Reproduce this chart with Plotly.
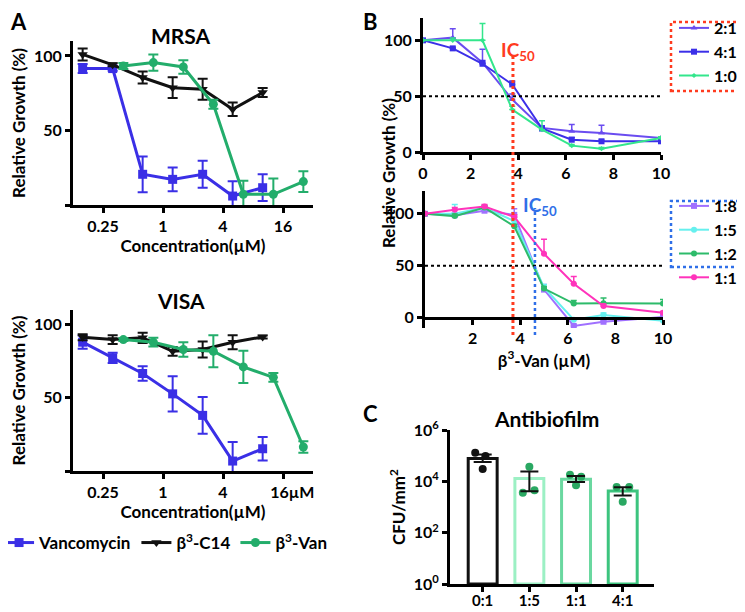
import plotly.graph_objects as go

# ---- data ----
# Panel A: concentrations (uM)
conc_vanco = [0.15625, 0.3125, 0.625, 1.25, 2.5, 5, 10]
conc_b3van = [0.4, 0.8, 1.6, 3.2, 6.4, 12.8, 25.6]

mrsa_vanco = [91.5, 91.5, 20.6, 17.2, 20.6, 6, 11.6]
mrsa_vanco_err = [3, 1.5, 12, 8, 9, 10, 9]
mrsa_c14 = [101, 94, 85.5, 78.7, 77.6, 64.2, 75.4]
mrsa_c14_err = [4, 1, 4, 7, 7, 4.5, 3]
mrsa_b3van = [93.3, 95.5, 92.6, 67.6, 7.2, 7.2, 15.7]
mrsa_b3van_err = [2, 5.5, 4.5, 3, 9, 10.5, 7]

visa_vanco = [88, 77.3, 66.6, 52.7, 38, 6.8, 15.2]
visa_vanco_err = [4.5, 3.5, 5, 12, 12.5, 13, 8]
visa_c14 = [91.4, 89.8, 91, 81.8, 83, 88, 91.6]
visa_c14_err = [2, 3, 3.5, 3, 5.5, 4.8, 1]
visa_b3van = [89.8, 88, 83, 81.8, 71.1, 64, 16.4]
visa_b3van_err = [1, 3, 5, 11, 11, 3, 4]

# Panel B: beta3-Van concentration (uM)
conc_b = [0, 1.25, 2.5, 3.75, 5, 6.25, 7.5, 10]
r21 = [100, 102.4, 80, 47, 21.6, 18.6, 17, 12.6]
r21_up = [0, 8, 12, 5, 2, 6, 7, 1]
r41 = [100, 92.8, 79, 60.5, 21, 11, 9.6, 9.6]
r41_up = [0, 1, 3, 3, 2, 2, 1, 1]
r10 = [100, 100, 100, 38, 20, 5.7, 3, 12.6]
r10_up = [0, 2, 15, 3, 8, 1, 1, 1]

r18 = [100, 98.7, 103, 99, 27, -8, -4, 0.6]
r18_up = [0, 2, 2, 6, 5, 1, 1, 1]
r15 = [100, 100, 106, 93, 29, -2, 2.5, -3]
r15_up = [0, 9, 2, 3, 3, 1, 2, 1]
r12 = [100, 97.8, 106, 88, 28, 13.5, 13.8, 13.5]
r12_up = [0, 2, 2, 2, 2, 3, 5, 4]
r11 = [100, 104, 107, 97, 61.5, 32.7, 11.2, 4.8]
r11_up = [0, 2, 2, 2, 14, 7, 2, 1]

ic50_top = 3.78
ic50_bottom = 4.62

# Panel C: antibiofilm
c_labels = ["0:1", "1:5", "1:1", "4:1"]
c_mean = [7.7e4, 1.3e4, 1.2e4, 4.2e3]
c_err_hi = [1.1e5, 2.4e4, 1.63e4, 5.9e3]
c_err_lo = [5.7e4, 4.1e3, 9.4e3, 2.8e3]
c_pts = [[1.3e5, 9.8e4, 3.0e4], [3.7e4, 3.6e3, 4.5e3],
         [1.8e4, 1.5e4, 7.0e3], [6.0e3, 6.0e3, 1.6e3]]

# ---- style ----
W, H = 745, 612
FONT = "Lato"
BLUE = "#3a2fe6"
BLACK = "#111111"
GREEN = "#23ad6b"
jitter = [[-0.16, 0.06, 0], [0, -0.14, 0.11], [-0.13, 0.11, 0], [-0.13, 0.14, 0]]
bar_lines = ["#111111", "#9cf0c4", "#6ad8a0", "#3cc47e"]
dot_cols = ["#111111", "#2aa862", "#2aa862", "#2aa862"]


def fx(p):
    return p / W


def fy(p):
    return 1 - p / H


fig = go.Figure()


def a_trace(x, y, err, color, symbol, name, xa, ya, show):
    fig.add_trace(go.Scatter(
        x=x, y=y, mode="lines+markers", name=name, legend="legend",
        line=dict(color=color, width=3),
        marker=dict(symbol=symbol, size=9, color=color),
        error_y=dict(type="data", array=err, color=color, thickness=2, width=5),
        xaxis=xa, yaxis=ya, showlegend=show))


a_trace(conc_vanco, mrsa_vanco, mrsa_vanco_err, BLUE, "square", "Vancomycin", "x", "y", True)
a_trace(conc_vanco, mrsa_c14, mrsa_c14_err, BLACK, "triangle-down", "β<sup>3</sup>-C14", "x", "y", True)
a_trace(conc_b3van, mrsa_b3van, mrsa_b3van_err, GREEN, "circle", "β<sup>3</sup>-Van", "x", "y", True)
a_trace(conc_vanco, visa_vanco, visa_vanco_err, BLUE, "square", "Vancomycin", "x2", "y2", False)
a_trace(conc_vanco, visa_c14, visa_c14_err, BLACK, "triangle-down", "β<sup>3</sup>-C14", "x2", "y2", False)
a_trace(conc_b3van, visa_b3van, visa_b3van_err, GREEN, "circle", "β<sup>3</sup>-Van", "x2", "y2", False)


def b_trace(y, up, color, symbol, name, xa, ya, leg, size=6):
    fig.add_trace(go.Scatter(
        x=conc_b, y=y, mode="lines+markers", name=name, legend=leg,
        line=dict(color=color, width=2),
        marker=dict(symbol=symbol, size=size, color=color),
        error_y=dict(type="data", symmetric=False, array=up, arrayminus=[0] * len(up),
                     color=color, thickness=1.5, width=3),
        xaxis=xa, yaxis=ya))


b_trace(r21, r21_up, "#6a4cf0", "triangle-up", "2:1", "x3", "y3", "legend2")
b_trace(r41, r41_up, "#3b2fe8", "square", "4:1", "x3", "y3", "legend2")
b_trace(r10, r10_up, "#33e68c", "diamond", "1:0", "x3", "y3", "legend2", size=4)
b_trace(r18, r18_up, "#a070ff", "square", "1:8", "x4", "y4", "legend3")
b_trace(r15, r15_up, "#66f0ee", "circle", "1:5", "x4", "y4", "legend3")
b_trace(r12, r12_up, "#2dbb6a", "circle", "1:2", "x4", "y4", "legend3")
b_trace(r11, r11_up, "#ff33bb", "circle", "1:1", "x4", "y4", "legend3")

# Panel C bars
cx = list(range(len(c_labels)))
fig.add_trace(go.Bar(
    x=cx, y=c_mean, width=0.62, base=1,
    marker=dict(color="white", line=dict(color=bar_lines, width=3)),
    xaxis="x5", yaxis="y5", showlegend=False))
for i in cx:
    fig.add_trace(go.Scatter(
        x=[i + j for j in jitter[i]], y=c_pts[i], mode="markers",
        marker=dict(size=8, color=dot_cols[i]),
        xaxis="x5", yaxis="y5", showlegend=False))
fig.add_trace(go.Scatter(
    x=cx, y=c_mean, mode="markers", marker=dict(size=1, color="rgba(0,0,0,0)"),
    error_y=dict(type="data", symmetric=False,
                 array=[h - m for h, m in zip(c_err_hi, c_mean)],
                 arrayminus=[m - l for m, l in zip(c_mean, c_err_lo)],
                 color=BLACK, thickness=2, width=9),
    xaxis="x5", yaxis="y5", showlegend=False))

# ---- axes ----
ax_common = dict(showline=True, linewidth=3, linecolor="black", ticks="outside",
                 ticklen=5, tickwidth=2.5, tickcolor="black", showgrid=False,
                 zeroline=False, tickfont=dict(size=16, color="black"))
ytitle = dict(size=17)

logx = dict(type="log", range=[-0.9031, 1.5051], tickvals=[0.25, 1, 4, 16])
fig.update_layout(
    xaxis=dict(domain=[fx(65), fx(305)], anchor="y", ticktext=["0.25", "1", "4", "16"],
               title=dict(text="Concentration(µM)", font=dict(size=17), standoff=4),
               **logx, **ax_common),
    yaxis=dict(domain=[fy(197), fy(33)], anchor="x", range=[0, 110],
               tickvals=[0, 50, 100], ticktext=["", "50", "100"],
               title=dict(text="Relative Growth (%)", font=ytitle, standoff=6),
               **ax_common),
    xaxis2=dict(domain=[fx(65), fx(305)], anchor="y2",
                ticktext=["0.25", "1", "4", "\u2007\u200716µM"],
                title=dict(text="Concentration(µM)", font=dict(size=17), standoff=4),
                **logx, **ax_common),
    yaxis2=dict(domain=[fy(463), fy(302)], anchor="x2", range=[0, 110],
                tickvals=[0, 50, 100], ticktext=["", "50", "100"],
                title=dict(text="Relative Growth (%)", font=ytitle, standoff=6),
                **ax_common),
    xaxis3=dict(domain=[fx(415), fx(653)], anchor="y3", range=[0, 10],
                tickvals=[0, 2, 4, 6, 8, 10], **ax_common),
    yaxis3=dict(domain=[fy(144), fy(10)], anchor="x3", range=[0, 120],
                tickvals=[0, 50, 100], **ax_common),
    xaxis4=dict(domain=[fx(417), fx(655)], anchor="free", position=fy(310), range=[0, 10],
                tickvals=[2, 4, 6, 8, 10],
                title=dict(text="β<sup>3</sup>-Van (µM)", font=dict(size=17), standoff=8),
                **ax_common),
    yaxis4=dict(domain=[fy(320), fy(183)], anchor="x4", range=[-10, 122],
                tickvals=[0, 50, 100], **ax_common),
    xaxis5=dict(domain=[fx(442), fx(646)], anchor="y5", range=[-0.7, 3.67],
                tickvals=cx, ticktext=c_labels, ticklabelstandoff=-4,
                **{**ax_common, "tickfont": dict(size=15, color="black")}),
    yaxis5=dict(domain=[fy(576), fy(422)], anchor="x5", type="log", range=[0, 6],
                tickvals=[1, 100, 1e4, 1e6],
                ticktext=["10<sup>0</sup>", "10<sup>2</sup>", "10<sup>4</sup>", "10<sup>6</sup>"],
                title=dict(text="CFU/mm<sup>2</sup>", font=ytitle, standoff=4),
                **ax_common),
)

# ---- reference lines, IC50 markers, legend boxes ----
shapes = [
    dict(type="line", xref="x3", yref="y3", x0=0, x1=10, y0=50, y1=50,
         line=dict(color="black", width=2, dash="dot")),
    dict(type="line", xref="x4", yref="y4", x0=0, x1=10, y0=50, y1=50,
         line=dict(color="black", width=2, dash="dot")),
    dict(type="line", xref="x3", yref="paper", x0=ic50_top, x1=ic50_top,
         y0=fy(327), y1=fy(47), line=dict(color="#ff3b1f", width=3, dash="dot")),
    dict(type="line", xref="x4", yref="paper", x0=ic50_bottom, x1=ic50_bottom,
         y0=fy(327), y1=fy(200), line=dict(color="#2f6fe8", width=2.5, dash="dot")),
    dict(type="rect", xref="paper", yref="paper", x0=fx(663), x1=fx(742), y0=fy(83), y1=fy(14),
         line=dict(color="#ff3b1f", width=2.5, dash="dot")),
    dict(type="rect", xref="paper", yref="paper", x0=fx(663), x1=fx(742), y0=fy(259), y1=fy(193),
         line=dict(color="#2f6fe8", width=2.5, dash="dot")),
]

annotations = [
    dict(text="A", x=fx(10), y=fy(13), font=dict(size=22)),
    dict(text="B", x=fx(362), y=fy(13), font=dict(size=22)),
    dict(text="C", x=fx(362), y=fy(405), font=dict(size=22)),
    dict(text="MRSA", x=fx(173), y=fy(28), font=dict(size=21)),
    dict(text="VISA", x=fx(173), y=fy(292), font=dict(size=21)),
    dict(text="Antibiofilm", x=fx(538), y=fy(411), font=dict(size=21)),
    dict(text="IC<sub>50</sub>", x=fx(510), y=fy(43), font=dict(size=19, color="#ff3b1f")),
    dict(text="IC<sub>50</sub>", x=fx(532), y=fy(198), font=dict(size=19, color="#2f6fe8")),
    dict(text="Relative Growth (%)", x=fx(381), y=fy(165), textangle=-90, font=ytitle),
]
for a in annotations:
    a.update(xref="paper", yref="paper", showarrow=False, xanchor="center", yanchor="middle")

fig.update_layout(
    width=W, height=H, margin=dict(l=0, r=0, t=0, b=0, autoexpand=False),
    plot_bgcolor="white", paper_bgcolor="white",
    font=dict(family=FONT, size=16, color="black", weight="bold"),
    shapes=shapes, annotations=annotations,
    legend=dict(orientation="h", x=-0.012, y=fy(535), xanchor="left", yanchor="middle",
                font=dict(size=17), itemwidth=30, bgcolor="rgba(0,0,0,0)"),
    legend2=dict(x=fx(666), y=fy(3), xanchor="left", yanchor="top",
                 font=dict(size=16), itemwidth=30, bgcolor="rgba(0,0,0,0)"),
    legend3=dict(x=fx(666), y=fy(181), xanchor="left", yanchor="top",
                 font=dict(size=16), itemwidth=30, bgcolor="rgba(0,0,0,0)"),
)

fig.write_html("out.html")
